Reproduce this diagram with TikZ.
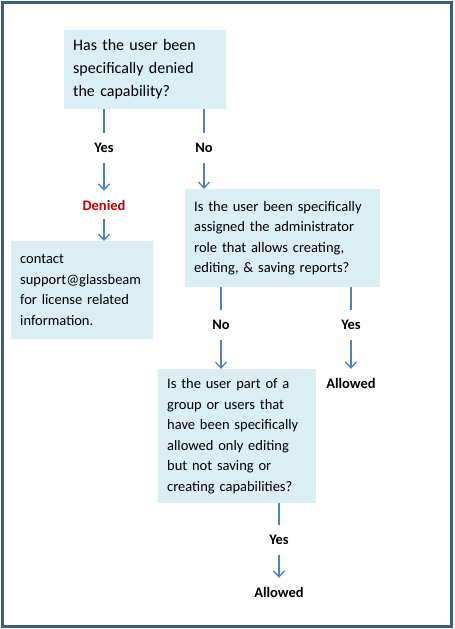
\documentclass[tikz,border=0pt]{standalone}
\usepackage{fontspec}
\setmainfont{Carlito}
\usetikzlibrary{arrows.meta}
\definecolor{frame-blue}{RGB}{56,93,138}
\definecolor{flow-blue}{RGB}{79,129,189}
\definecolor{box-aqua}{RGB}{218,238,243}
\definecolor{deny-red}{RGB}{192,0,0}
\tikzset{
  query-box/.style={fill=box-aqua, anchor=north west, align=left, inner xsep=9pt, inner ysep=0pt,
    font=\fontsize{14.5}{20.5}\selectfont},
  answer-tag/.style={font=\fontsize{14.5}{17}\selectfont\bfseries, minimum height=30pt, inner sep=0pt},
  flow-line/.style={flow-blue, line width=1.3pt},
  flow-arrow/.style={flow-line, -{Straight Barb[length=6pt,width=11pt]}}
}
\begin{document}
\begin{tikzpicture}[x=1pt,y=-1pt]
\useasboundingbox (0,0) rectangle (455,629);
\draw[frame-blue, line width=3pt] (2,2) rectangle (451.5,626.5);

\node[query-box, text width=144pt, minimum height=79pt, font=\fontsize{16}{23}\selectfont] (denied-query) at (64,30)
  {Has the user been\\specifically denied\\the capability?};
\node[query-box, text width=124pt, minimum height=98pt] (contact-box) at (11,241)
  {contact\\support@glassbeam\\for license related\\information.};
\node[query-box, text width=177pt, minimum height=98pt] (admin-query) at (185,189)
  {Is the user been specifically\\assigned the administrator\\role that allows creating,\\editing, \& saving reports?};
\node[query-box, text width=140pt, minimum height=134pt] (editing-query) at (158,369)
  {Is the user part of a\\group or users that\\have been specifically\\allowed only editing\\but not saving or\\creating capabilities?};

\node[answer-tag] (yes-a) at (104,148) {Yes};
\node[answer-tag] (no-a) at (204,148) {No};
\node[answer-tag, minimum height=28pt, text=deny-red] (denied-tag) at (104,205) {Denied};
\node[answer-tag] (no-b) at (221,325) {No};
\node[answer-tag] (yes-b) at (351,325) {Yes};
\node[answer-tag, minimum height=28pt] (allowed-b) at (351,383) {Allowed};
\node[answer-tag] (yes-c) at (279,540) {Yes};
\node[answer-tag, minimum height=28pt] (allowed-c) at (279,592) {Allowed};

\draw[flow-line] (denied-query.south -| yes-a.north) -- (yes-a.north);
\draw[flow-arrow] (yes-a.south) -- (denied-tag.north);
\draw[flow-arrow] (denied-tag.south) -- (denied-tag.south |- contact-box.north);
\draw[flow-line] (denied-query.south -| no-a.north) -- (no-a.north);
\draw[flow-arrow] (no-a.south) -- (no-a.south |- admin-query.north);
\draw[flow-line] (admin-query.south -| no-b.north) -- (no-b.north);
\draw[flow-arrow] (no-b.south) -- (no-b.south |- editing-query.north);
\draw[flow-line] (admin-query.south -| yes-b.north) -- (yes-b.north);
\draw[flow-arrow] (yes-b.south) -- (allowed-b.north);
\draw[flow-line] (editing-query.south -| yes-c.north) -- (yes-c.north);
\draw[flow-arrow] (yes-c.south) -- (allowed-c.north);
\end{tikzpicture}
\end{document}
